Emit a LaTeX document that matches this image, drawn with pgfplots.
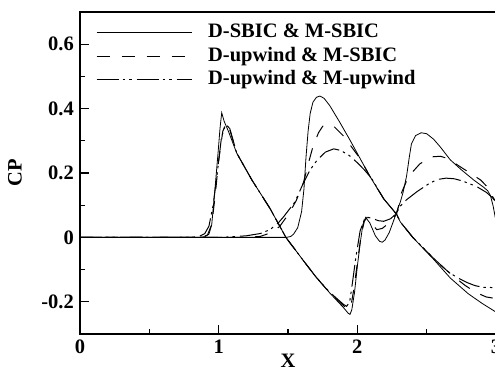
\documentclass[border=0pt]{standalone}
\usepackage{fontspec}
\setmainfont{Liberation Serif}
\usepackage{pgfplots}
\pgfplotsset{compat=1.18}
\begin{document}
\begin{tikzpicture}
\begin{axis}[
  scale only axis, width=416bp, height=322bp,
  xmin=0, xmax=3, ymin=-0.3, ymax=0.7,
  xtick={0,1,2,3}, xticklabels={0,1,2,3},
  ytick={-0.2,0,0.2,0.4,0.6}, yticklabels={-0.2,0,0.2,0.4,0.6},
  minor xtick={0.5,1.5,2.5}, minor ytick={-0.1,0.1,0.3,0.5},
  tick align=inside, xtick pos=bottom, ytick pos=left,
  major tick length=9bp, minor tick length=5bp,
  axis line style={line width=1.5bp},
  every tick/.style={line width=1.2bp, black},
  font=\fontsize{20.5bp}{24bp}\selectfont\bfseries,
  xticklabel style={inner sep=0pt, yshift=-6bp},
  yticklabel style={inner sep=0pt, xshift=-6bp},
  xlabel={X}, ylabel={CP},
  xlabel style={at={(axis description cs:0.5,0)}, anchor=north, inner sep=0pt, yshift=-20bp},
  ylabel style={at={(axis description cs:0,0.5)}, anchor=center, inner sep=0pt, rotate=0, yshift=65bp},
  legend image code/.code={\draw[#1] (0bp,0bp) -- (95bp,0bp);},
  legend cell align=left,
  legend style={draw=none, fill=none, at={(axis description cs:0,1)}, anchor=north west,
    xshift=16bp, yshift=-11.4bp, inner sep=0pt, row sep=5.5bp, column sep=16bp,
    nodes={inner sep=0pt, text height=14bp, text depth=4bp},
    font=\fontsize{20.5bp}{24bp}\selectfont\bfseries},
  every axis plot/.append style={black},
]
\coordinate (ll) at (rel axis cs:0,0);
\coordinate (ur) at (rel axis cs:1,1);
% ---------- solid ----------
\addplot[line width=0.8bp] coordinates {
(0,0) (0.85,0) (0.9,0.002) (0.93,0.01) (0.95,0.04) (0.973,0.148) (0.997,0.27) (1.01,0.34) (1.022,0.387)
(1.04,0.36) (1.07,0.33) (1.13,0.262) (1.24,0.178) (1.37,0.09) (1.485,0) (1.6,-0.066) (1.7,-0.122)
(1.8,-0.172) (1.9,-0.218) (1.935,-0.236) (1.947,-0.239) (1.96,-0.225) (1.98,-0.17) (2.0,-0.09)
(2.02,-0.02) (2.04,0.04) (2.06,0.062) (2.09,0.045) (2.13,0.005) (2.16,-0.012) (2.18,-0.015)
(2.2,-0.008) (2.23,0.015) (2.26,0.05) (2.28,0.075) (2.31,0.11) (2.33,0.14) (2.355,0.19) (2.375,0.25)
(2.39,0.29) (2.42,0.316) (2.46,0.325) (2.5,0.322) (2.55,0.305) (2.6,0.28) (2.67,0.241) (2.75,0.21)
(2.84,0.178) (2.91,0.156) (2.94,0.145) (2.96,0.13) (2.98,0.096) (3.0,0.05)};
\addlegendentry{D-SBIC \& M-SBIC}
\addplot[line width=0.8bp, forget plot] coordinates {
(0,0) (1.49,0) (1.52,0.003) (1.54,0.01) (1.57,0.03) (1.598,0.08) (1.615,0.15) (1.63,0.25) (1.645,0.33)
(1.66,0.385) (1.68,0.42) (1.705,0.435) (1.73,0.439) (1.76,0.432) (1.8,0.41) (1.87,0.36) (1.95,0.3)
(2.02,0.245) (2.09,0.19) (2.19,0.12) (2.283,0.072) (2.31,0.048) (2.4,0.0) (2.55,-0.068) (2.67,-0.126)
(2.8,-0.175) (2.9,-0.205) (3.0,-0.232)};
% ---------- dashed ----------
\addplot[line width=1bp, dash pattern=on 13bp off 12bp] coordinates {
(0,0) (0.88,0) (0.92,0.008) (0.95,0.04) (0.975,0.13) (1.0,0.24) (1.03,0.33) (1.055,0.355) (1.08,0.335)
(1.13,0.262) (1.24,0.178) (1.37,0.09) (1.485,0) (1.6,-0.066) (1.7,-0.122) (1.8,-0.172) (1.9,-0.212)
(1.935,-0.224) (1.955,-0.21) (1.975,-0.16) (2.0,-0.08) (2.025,0.0) (2.05,0.05) (2.07,0.062) (2.1,0.045)
(2.14,0.024) (2.18,0.028) (2.23,0.045) (2.283,0.072) (2.32,0.14) (2.36,0.18) (2.4,0.204) (2.45,0.228)
(2.53,0.25) (2.6,0.252) (2.65,0.245) (2.74,0.22) (2.83,0.195) (2.89,0.178) (2.93,0.16) (2.96,0.137)
(3.0,0.11)};
\addlegendentry{D-upwind \& M-SBIC}
\addplot[line width=1bp, dash pattern=on 13bp off 12bp, forget plot] coordinates {
(0,0) (1.2,0) (1.3,0.003) (1.38,0.015) (1.44,0.034) (1.51,0.076) (1.56,0.115) (1.61,0.168) (1.65,0.235)
(1.68,0.282) (1.72,0.325) (1.75,0.345) (1.79,0.352) (1.83,0.345) (1.9,0.315) (1.96,0.28) (2.02,0.245)
(2.09,0.19) (2.19,0.12) (2.283,0.072) (2.31,0.048) (2.4,0.0) (2.55,-0.066) (2.69,-0.12) (2.78,-0.15)
(2.86,-0.172) (2.93,-0.185) (3.0,-0.19)};
% ---------- dash-dot ----------
\addplot[line width=1bp, dash pattern=on 22bp off 4bp on 2.5bp off 4bp on 2.5bp off 5bp] coordinates {
(0,0) (0.8,0) (0.86,0.003) (0.9,0.012) (0.93,0.035) (0.96,0.1) (0.99,0.2) (1.02,0.31) (1.05,0.352)
(1.08,0.338) (1.13,0.262) (1.24,0.178) (1.37,0.09) (1.485,0) (1.6,-0.066) (1.7,-0.122) (1.8,-0.17)
(1.9,-0.208) (1.923,-0.214) (1.945,-0.2) (1.965,-0.14) (1.99,-0.06) (2.02,0.02) (2.05,0.055) (2.08,0.062)
(2.115,0.058) (2.15,0.052) (2.19,0.05) (2.24,0.058) (2.283,0.075) (2.307,0.096) (2.355,0.117)
(2.43,0.142) (2.52,0.168) (2.58,0.18) (2.64,0.184) (2.7,0.182) (2.76,0.175) (2.86,0.158) (2.93,0.14)
(2.97,0.125) (3.0,0.11)};
\addlegendentry{D-upwind \& M-upwind}
\addplot[line width=1bp, dash pattern=on 22bp off 4bp on 2.5bp off 4bp on 2.5bp off 5bp, forget plot] coordinates {
(0,0) (1.0,0) (1.1,0.002) (1.2,0.005) (1.3,0.012) (1.37,0.024) (1.43,0.045) (1.47,0.065) (1.55,0.11)
(1.61,0.168) (1.66,0.21) (1.71,0.24) (1.77,0.265) (1.83,0.275) (1.88,0.27) (1.94,0.255) (2.0,0.232)
(2.05,0.21) (2.1,0.185) (2.19,0.12) (2.283,0.072) (2.31,0.048) (2.4,0.0) (2.55,-0.065) (2.65,-0.105)
(2.72,-0.125) (2.79,-0.14) (2.85,-0.15) (2.91,-0.155) (3.0,-0.156)};
\end{axis}
\pgfresetboundingbox
\path[use as bounding box] ([xshift=-80bp,yshift=-33bp]ll) rectangle ([xshift=-1bp,yshift=12bp]ur);
\end{tikzpicture}
\end{document}
